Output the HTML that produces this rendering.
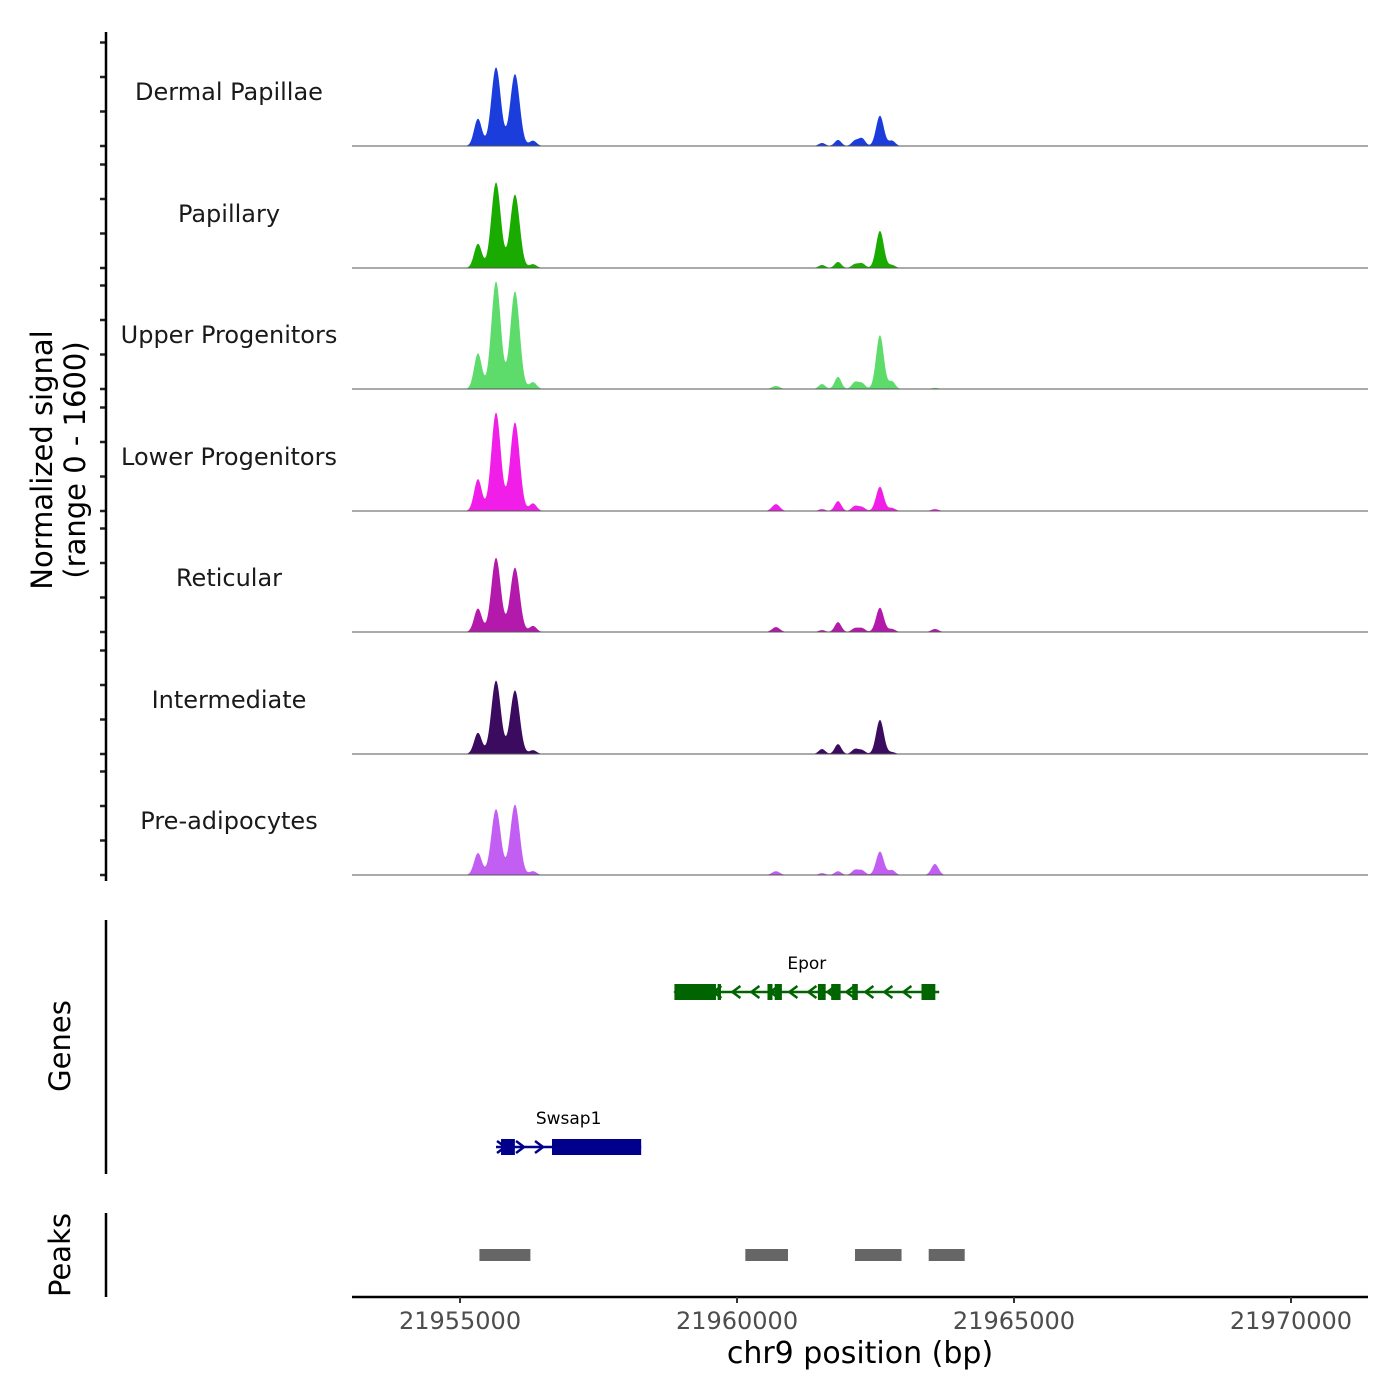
<!DOCTYPE html>
<html><head><meta charset="utf-8">
<style>
html,body{margin:0;padding:0;background:#fff;}
svg{display:block;font-family:"DejaVu Sans","Liberation Sans",sans-serif;}
</style></head>
<body>
<svg id="chart" width="1400" height="1400" viewBox="0 0 1400 1400" xmlns="http://www.w3.org/2000/svg"></svg>
<script>
const trackNames = ["Dermal Papillae","Papillary","Upper Progenitors","Lower Progenitors","Reticular","Intermediate","Pre-adipocytes"];
const trackColors = ["#1a3ddb","#1aab00","#5ddc6c","#f01ee8","#b31aab","#3b0b5f","#c25ef2"];
// peak centers (bp)
const peakCenters = [21955324,21955650,21955992,21956317,21960703,21961534,21961823,21962130,21962256,21962580,21962797,21963573];
// peak heights per track (normalized signal, 0-1600)
const peakHeights = [
  [360,1040,950,70,0,40,80,70,100,400,70,0],
  [320,1130,970,50,0,40,80,50,60,490,40,0],
  [470,1420,1290,90,40,65,160,90,75,710,100,15],
  [420,1300,1170,100,90,25,130,65,50,320,40,25],
  [310,980,850,80,65,25,130,50,50,320,40,40],
  [280,970,840,50,0,65,130,65,50,450,25,0],
  [290,870,930,50,50,25,50,65,60,310,65,145]
];
const peakSigma = [70,85,85,65,70,60,60,60,60,70,60,65];
const genes = ["Epor","Swsap1"];
const geneStart = [21958870,21955650];
const geneEnd = [21963650,21958270];
const geneStrand = [-1,1];
const geneExonsStart = [[21958870,21959650,21960550,21960680,21961460,21961700,21962080,21963330],[21955740,21956660]];
const geneExonsEnd = [[21959620,21959710,21960640,21960810,21961600,21961870,21962180,21963580],[21955990,21958270]];
const peakRegionStart = [21955350,21960150,21962130,21963460];
const peakRegionEnd = [21956270,21960920,21962970,21964110];
const xTicks = [21955000,21960000,21965000,21970000];
const yMax = 1600;

const svg = document.getElementById('chart');
const NS = "http://www.w3.org/2000/svg";
const X0=352, X1=1368, BP0=21953050, BP1=21971390;
const xs = bp => X0 + (bp-BP0)/(BP1-BP0)*(X1-X0);
const baselines = [146,268,389,511,632,754,875];
const trackH = 121;
const ys = (v,b) => b - v/yMax*trackH;
function el(tag, attrs, parent){const e=document.createElementNS(NS,tag);for(const k in attrs)e.setAttribute(k,attrs[k]);(parent||svg).appendChild(e);return e;}

trackNames.forEach((name,t)=>{
  const b = baselines[t];
  const g = el('g',{});
  
  
  let d = `M${X0},${b}`;
  for(let x=X0;x<=X1;x+=0.5){
    const bp = BP0+(x-X0)/(X1-X0)*(BP1-BP0);
    let v=0;
    for(let i=0;i<peakCenters.length;i++){const z=(bp-peakCenters[i])/peakSigma[i];v+=peakHeights[t][i]*Math.exp(-0.5*z*z);}
    d += `L${x.toFixed(1)},${ys(v,b).toFixed(2)}`;
  }
  d += `L${X1},${b}Z`;
  const p = el('path',{d:d,fill:trackColors[t],stroke:'none'},g);
  
  
  const l = el('line',{x1:X0,x2:X1,y1:b,y2:b,stroke:'#555','stroke-width':1},g);
  
  
  const tx = el('text',{x:229,y:b-46,'text-anchor':'middle','font-size':24,fill:'#1a1a1a'},g);
  tx.textContent = name;
  
  
  for(let k=0;k<4;k++){
    const tk = el('line',{x1:100,x2:106,y1:b-34.5*k,y2:b-34.5*k,stroke:'#222','stroke-width':2.5},g);
    
    
  }
});
let ax = el('line',{x1:106,x2:106,y1:32,y2:881,stroke:'#000','stroke-width':2.5});
 
let yt = el('text',{transform:'translate(52,460) rotate(-90)','text-anchor':'middle','font-size':29,fill:'#000'});
 
yt.innerHTML = '<tspan x="0" dy="0">Normalized signal</tspan><tspan x="0" dy="33">(range 0 - 1600)</tspan>';

ax = el('line',{x1:106,x2:106,y1:920,y2:1174,stroke:'#000','stroke-width':2.5});
 
let gl = el('text',{transform:'translate(70,1046) rotate(-90)','text-anchor':'middle','font-size':29,fill:'#000'});
gl.textContent='Genes';  
const geneColors=["#006400","#00008b"], geneY=[992,1147];
genes.forEach((gn,i)=>{
  const g = el('g',{});
  
  
  const c=geneColors[i], y=geneY[i], xa=xs(geneStart[i]), xb=xs(geneEnd[i]);
  el('line',{x1:xa,x2:xb,y1:y,y2:y,stroke:c,'stroke-width':2.5},g);
  for(let x=xa+5;x<xb;x+=19){
    const s=geneStrand[i]*4;
    el('polyline',{points:`${x-s},${y-6} ${x+s},${y} ${x-s},${y+6}`,fill:'none',stroke:c,'stroke-width':2.5},g);
  }
  geneExonsStart[i].forEach((s,j)=>{
    const a=xs(s), w=Math.max(xs(geneExonsEnd[i][j])-a,3);
    const r=el('rect',{x:a,y:y-8,width:w,height:16,fill:c},g);
     
  });
  const t=el('text',{x:(xa+xb)/2,y:y-23,'text-anchor':'middle','font-size':17,fill:'#000'},g);
  t.textContent=gn;  
});

ax = el('line',{x1:106,x2:106,y1:1213,y2:1297,stroke:'#000','stroke-width':2.5});
 
let pl = el('text',{transform:'translate(70,1255) rotate(-90)','text-anchor':'middle','font-size':29,fill:'#000'});
pl.textContent='Peaks';  
peakRegionStart.forEach((s,i)=>{
  const r=el('rect',{x:xs(s),y:1249,width:xs(peakRegionEnd[i])-xs(s),height:12,fill:'#666'});
   
});

ax = el('line',{x1:X0,x2:X1,y1:1297,y2:1297,stroke:'#000','stroke-width':2.5});
 
xTicks.forEach(v=>{
  const x=xs(v);
  const tk=el('line',{x1:x,x2:x,y1:1297,y2:1303,stroke:'#333','stroke-width':2});
   
  const t=el('text',{x:x,y:1329,'text-anchor':'middle','font-size':24,fill:'#4d4d4d'});
  t.textContent=v;  
});
let xt=el('text',{x:860,y:1363,'text-anchor':'middle','font-size':30,fill:'#000'});
xt.textContent='chr9 position (bp)';  
</script>
</body></html>
